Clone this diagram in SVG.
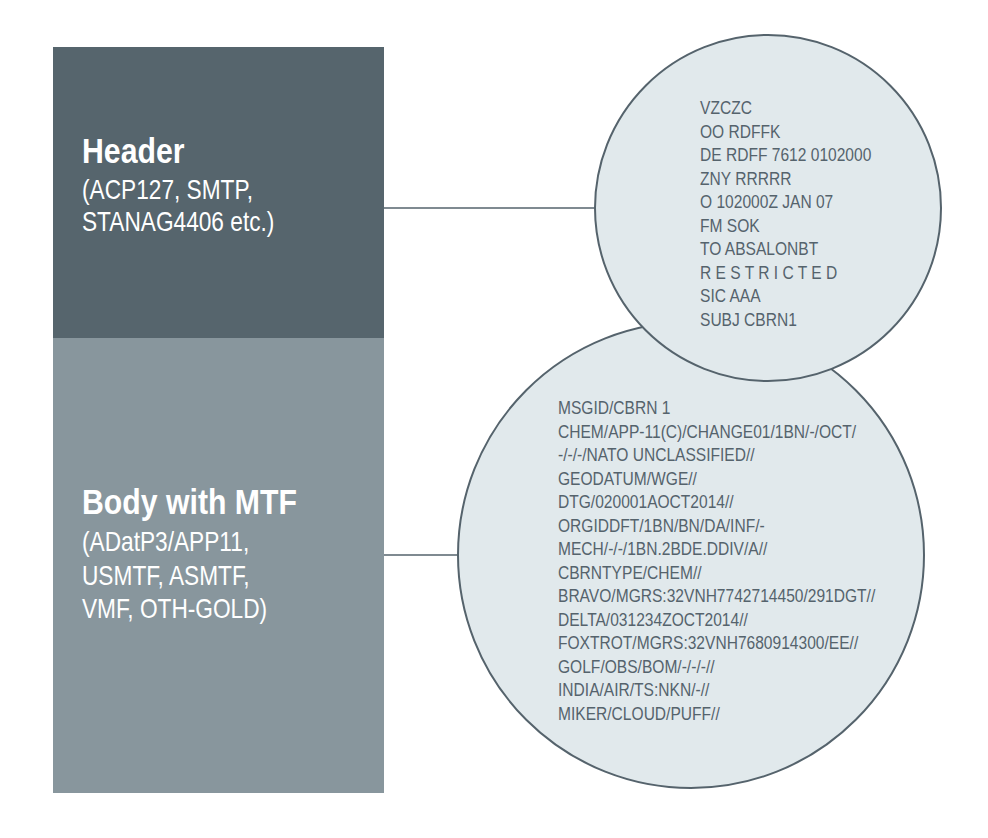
<svg xmlns="http://www.w3.org/2000/svg" width="988" height="838" viewBox="0 0 988 838">
<style>
.title{font-family:"Liberation Sans",Arial,sans-serif;font-weight:bold;font-size:36px;fill:#ffffff}
.sub{font-family:"Liberation Sans",Arial,sans-serif;font-size:28px;fill:#ffffff}
.msg{font-family:"Liberation Sans",Arial,sans-serif;font-size:19px;fill:#55636c}
.bubble{fill:#e1e9ec;stroke:#55636c;stroke-width:2}
.conn{stroke:#55636c;stroke-width:1.6;fill:none}
</style>
<rect width="988" height="838" fill="#ffffff"/>
<g id="connectors">
<line class="conn" x1="384" y1="208" x2="596" y2="208"/>
<line class="conn" x1="384" y1="555" x2="459" y2="555"/>
</g>
<g id="header">
<rect x="53" y="47" width="331" height="291" fill="#56656d"/>
<g transform="translate(82,0) scale(0.84,1)">
<text class="title" x="0" y="163">Header</text>
</g>
<g transform="translate(82,0) scale(0.81,1)">
<text class="sub" x="0" y="199">(ACP127, SMTP,</text>
<text class="sub" x="0" y="231">STANAG4406 etc.)</text>
</g>
</g>
<g id="body">
<rect x="53" y="338" width="331" height="455" fill="#88969d"/>
<g transform="translate(82,0) scale(0.84,1)">
<text class="title" x="0" y="514">Body with MTF</text>
</g>
<g transform="translate(82,0) scale(0.81,1)">
<text class="sub" x="0" y="551">(ADatP3/APP11,</text>
<text class="sub" x="0" y="585">USMTF, ASMTF,</text>
<text class="sub" x="0" y="618">VMF, OTH-GOLD)</text>
</g>
</g>
<g id="body-message">
<circle class="bubble" cx="691" cy="555" r="233"/>
<g transform="translate(558,0) scale(0.82,1)">
<text class="msg" x="0" y="414.5">MSGID/CBRN 1</text>
<text class="msg" x="0" y="438">CHEM/APP-11(C)/CHANGE01/1BN/-/OCT/</text>
<text class="msg" x="0" y="461.5">-/-/-/NATO UNCLASSIFIED//</text>
<text class="msg" x="0" y="485">GEODATUM/WGE//</text>
<text class="msg" x="0" y="508.5">DTG/020001AOCT2014//</text>
<text class="msg" x="0" y="532">ORGIDDFT/1BN/BN/DA/INF/-</text>
<text class="msg" x="0" y="555.5">MECH/-/-/1BN.2BDE.DDIV/A//</text>
<text class="msg" x="0" y="579">CBRNTYPE/CHEM//</text>
<text class="msg" x="0" y="602.5">BRAVO/MGRS:32VNH7742714450/291DGT//</text>
<text class="msg" x="0" y="626">DELTA/031234ZOCT2014//</text>
<text class="msg" x="0" y="649.5">FOXTROT/MGRS:32VNH7680914300/EE//</text>
<text class="msg" x="0" y="673">GOLF/OBS/BOM/-/-/-//</text>
<text class="msg" x="0" y="696.5">INDIA/AIR/TS:NKN/-//</text>
<text class="msg" x="0" y="720">MIKER/CLOUD/PUFF//</text>
</g>
</g>
<g id="header-message">
<circle class="bubble" cx="768" cy="208" r="173"/>
<g transform="translate(700,0) scale(0.82,1)">
<text class="msg" x="0" y="114.5">VZCZC</text>
<text class="msg" x="0" y="138">OO RDFFK</text>
<text class="msg" x="0" y="161.5">DE RDFF 7612 0102000</text>
<text class="msg" x="0" y="185">ZNY RRRRR</text>
<text class="msg" x="0" y="208.5">O 102000Z JAN 07</text>
<text class="msg" x="0" y="232">FM SOK</text>
<text class="msg" x="0" y="255.5">TO ABSALONBT</text>
<text class="msg" x="0" y="279">R E S T R I C T E D</text>
<text class="msg" x="0" y="302.5">SIC AAA</text>
<text class="msg" x="0" y="326">SUBJ CBRN1</text>
</g>
</g>
</svg>
